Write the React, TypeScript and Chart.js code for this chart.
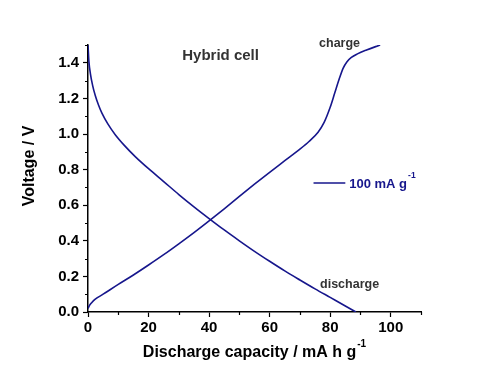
import { useEffect, useRef } from 'react';
import { Chart, registerables } from 'chart.js';

Chart.register(...registerables);

const dischargeCapacity = [0, 0.3, 0.8, 1.5, 2.4, 3.5, 4.6, 6.5, 9, 12, 15.6, 20, 25, 30, 35, 40, 45, 50, 55, 60, 65, 70, 75, 80, 85, 88.5];
const dischargeVoltage = [1.5, 1.408, 1.338, 1.275, 1.216, 1.161, 1.117, 1.058, 0.996, 0.936, 0.873, 0.805, 0.733, 0.66, 0.591, 0.525, 0.461, 0.4, 0.341, 0.285, 0.231, 0.18, 0.13, 0.082, 0.034, 0.0];

const chargeCapacity = [0, 0.5, 1.2, 2.4, 5, 10, 15, 20, 25, 30, 35, 40, 45, 50, 55, 60, 65, 70, 73, 76, 78, 80, 81.5, 83, 84.3, 85.5, 87, 89, 92, 96.5];
const chargeVoltage = [0.02, 0.037, 0.052, 0.072, 0.1, 0.155, 0.208, 0.264, 0.322, 0.383, 0.446, 0.512, 0.58, 0.65, 0.718, 0.785, 0.85, 0.915, 0.958, 1.01, 1.065, 1.15, 1.23, 1.31, 1.37, 1.405, 1.43, 1.45, 1.472, 1.5];

const xMajorTicks = [0, 20, 40, 60, 80, 100];
const xMinorTicks = [10, 30, 50, 70, 90, 110];
const yMajorTicks = [0, 0.2, 0.4, 0.6, 0.8, 1.0, 1.2, 1.4];
const yMinorTicks = [0.1, 0.3, 0.5, 0.7, 0.9, 1.1, 1.3, 1.5];

const xTitle = 'Discharge capacity / mA h g';
const yTitle = 'Voltage / V';
const superscript = '-1';
const cellLabel = 'Hybrid cell';
const chargeLabel = 'charge';
const dischargeLabel = 'discharge';
const legendLabel = '100 mA g';

const LINE = '#16168c';
const FONT = '"Liberation Sans", Arial, sans-serif';

export default function App() {
  const ref = useRef<HTMLCanvasElement | null>(null);

  useEffect(() => {
    if (!ref.current) return;

    const extras = {
      id: 'extras',
      afterDraw(chart: any) {
        const ctx = chart.ctx as CanvasRenderingContext2D;
        const xs = chart.scales.x;
        const ys = chart.scales.y;
        const area = chart.chartArea;
        ctx.save();
        // minor ticks
        ctx.strokeStyle = '#000';
        ctx.lineWidth = 1.2;
        ctx.beginPath();
        xMinorTicks.forEach((v) => {
          const px = Math.round(xs.getPixelForValue(v)) + 0.5;
          ctx.moveTo(px, area.bottom);
          ctx.lineTo(px, area.bottom + 3);
        });
        yMinorTicks.forEach((v) => {
          const py = Math.round(ys.getPixelForValue(v)) + 0.5;
          ctx.moveTo(area.left, py);
          ctx.lineTo(area.left - 3, py);
        });
        ctx.stroke();

        // x title
        ctx.fillStyle = '#000';
        ctx.textBaseline = 'alphabetic';
        ctx.textAlign = 'left';
        ctx.font = `bold 16px ${FONT}`;
        const wMain = ctx.measureText(xTitle).width;
        ctx.font = `bold 10px ${FONT}`;
        const wSup = ctx.measureText(superscript).width;
        const cx = (area.left + area.right) / 2;
        const left = cx - (wMain + wSup + 1) / 2;
        ctx.font = `bold 16px ${FONT}`;
        ctx.fillText(xTitle, left, 357);
        ctx.font = `bold 10px ${FONT}`;
        ctx.fillText(superscript, left + wMain + 1, 347);

        // y title
        ctx.save();
        ctx.translate(30, 166);
        ctx.rotate(-Math.PI / 2);
        ctx.textAlign = 'center';
        ctx.textBaseline = 'middle';
        ctx.font = `bold 16px ${FONT}`;
        ctx.fillText(yTitle, 0, 0);
        ctx.restore();

        // annotations
        ctx.fillStyle = '#333';
        ctx.textAlign = 'center';
        ctx.textBaseline = 'middle';
        ctx.font = `bold 15px ${FONT}`;
        ctx.fillText(cellLabel, xs.getPixelForValue(43.8), ys.getPixelForValue(1.44));
        ctx.font = `bold 12.5px ${FONT}`;
        ctx.fillText(chargeLabel, xs.getPixelForValue(83.1), ys.getPixelForValue(1.51));
        ctx.fillText(dischargeLabel, xs.getPixelForValue(86.4), ys.getPixelForValue(0.155));

        // legend
        const ly = ys.getPixelForValue(0.725);
        ctx.strokeStyle = LINE;
        ctx.lineWidth = 1.6;
        ctx.beginPath();
        ctx.moveTo(xs.getPixelForValue(74.5), ly);
        ctx.lineTo(xs.getPixelForValue(85), ly);
        ctx.stroke();
        ctx.fillStyle = LINE;
        ctx.textAlign = 'left';
        ctx.font = `bold 13px ${FONT}`;
        const lx = xs.getPixelForValue(86.3);
        ctx.fillText(legendLabel, lx, ly + 1);
        const lw = ctx.measureText(legendLabel).width;
        ctx.font = `bold 8.5px ${FONT}`;
        ctx.fillText(superscript, lx + lw + 1, ly - 7);
        ctx.restore();
      },
    };

    const chart = new Chart(ref.current, {
      type: 'line',
      data: {
        datasets: [
          {
            label: 'discharge',
            data: dischargeCapacity.map((x, i) => ({ x, y: dischargeVoltage[i] })),
            borderColor: LINE,
            borderWidth: 1.6,
            pointRadius: 0,
            cubicInterpolationMode: 'monotone',
            fill: false,
          },
          {
            label: 'charge',
            data: chargeCapacity.map((x, i) => ({ x, y: chargeVoltage[i] })),
            borderColor: LINE,
            borderWidth: 1.6,
            pointRadius: 0,
            cubicInterpolationMode: 'monotone',
            fill: false,
          },
        ],
      },
      options: {
        animation: false,
        responsive: false,
        layout: { padding: { top: 45, right: 68, left: 0, bottom: 0 } },
        plugins: { legend: { display: false }, tooltip: { enabled: false }, title: { display: false } },
        scales: {
          x: {
            type: 'linear',
            min: 0,
            max: 110,
            afterFit: (s: any) => { s.height = 62; },
            afterBuildTicks: (s: any) => { s.ticks = xMajorTicks.map((value) => ({ value })); },
            ticks: {
              includeBounds: false,
              color: '#000',
              padding: 2,
              font: { family: FONT, size: 15, weight: 'bold' },
              callback: (v: any) => String(v),
              maxRotation: 0,
            },
            grid: { display: true, drawOnChartArea: false, drawTicks: true, tickLength: 5, color: '#000', tickWidth: 1.2 },
            border: { display: true, color: '#000', width: 1.5 },
          },
          y: {
            type: 'linear',
            min: 0,
            max: 1.5,
            afterFit: (s: any) => { s.width = 88; },
            afterBuildTicks: (s: any) => { s.ticks = yMajorTicks.map((value) => ({ value })); },
            ticks: {
              includeBounds: false,
              color: '#000',
              padding: 4,
              font: { family: FONT, size: 15, weight: 'bold' },
              callback: (v: any) => Number(v).toFixed(1),
            },
            grid: { display: true, drawOnChartArea: false, drawTicks: true, tickLength: 5, color: '#000', tickWidth: 1.2 },
            border: { display: true, color: '#000', width: 1.5 },
          },
        },
      },
      plugins: [extras],
    } as any);

    return () => chart.destroy();
  }, []);

  return (
    <div style={{ position: 'fixed', left: 0, top: 0, width: 489, height: 374, background: '#fff' }}>
      <canvas ref={ref} width={489} height={374} style={{ display: 'block', width: 489, height: 374 }} />
    </div>
  );
}
